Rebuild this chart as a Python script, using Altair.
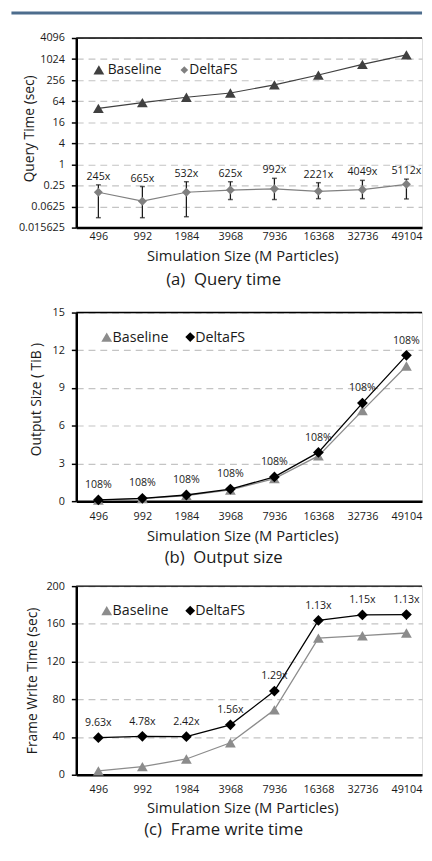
import altair as alt
import pandas as pd

sizes = ["496", "992", "1984", "3968", "7936", "16368", "32736", "49104"]

# (a) Query time (sec), log2 scale
query_baseline = [40, 58, 83, 110, 188, 358, 724, 1350]
query_deltafs = [0.16, 0.089, 0.16, 0.185, 0.20, 0.17, 0.19, 0.27]
query_err_low = [0.030, 0.030, 0.032, 0.099, 0.099, 0.105, 0.105, 0.103]
query_err_high = [0.26, 0.233, 0.32, 0.32, 0.40, 0.30, 0.35, 0.38]
query_speedup = ["245x", "665x", "532x", "625x", "992x", "2221x", "4049x", "5112x"]
query_ticks = [0.015625, 0.0625, 0.25, 1, 4, 16, 64, 256, 1024, 4096]

# (b) Output size (TiB)
output_baseline = [0.09, 0.21, 0.45, 0.89, 1.79, 3.60, 7.20, 10.75]
output_deltafs = [0.10, 0.23, 0.49, 0.96, 1.93, 3.88, 7.80, 11.60]
output_ratio = ["108%", "108%", "108%", "108%", "108%", "108%", "108%", "108%"]
output_ticks = [0, 3, 6, 9, 12, 15]

# (c) Frame write time (sec)
write_baseline = [4.1, 8.5, 16.7, 33.9, 68.8, 144.8, 147.4, 150.3]
write_deltafs = [39.3, 40.7, 40.4, 52.9, 88.7, 163.6, 169.5, 169.8]
write_ratio = ["9.63x", "4.78x", "2.42x", "1.56x", "1.29x", "1.13x", "1.15x", "1.13x"]
write_ticks = [0, 40, 80, 120, 160, 200]

series = ["Baseline", "DeltaFS"]
shapes = ["triangle-up", "diamond"]
FONT = "Open Sans"
TXT = "#1a1a1a"
W = 352
NB = "\u00a0"


def long_df(baseline, deltafs):
    rows = []
    for s, b, d in zip(sizes, baseline, deltafs):
        rows.append({"size": s, "series": "Baseline", "value": b})
        rows.append({"size": s, "series": "DeltaFS", "value": d})
    return pd.DataFrame(rows)


def x_enc(label_pad, title_pad):
    return alt.X(
        "size:N",
        sort=sizes,
        scale=alt.Scale(type="point", padding=0.4286, align=0.586),
        axis=alt.Axis(
            title="Simulation Size (M Particles)",
            labelAngle=0,
            ticks=False,
            grid=False,
            domainColor="black",
            domainWidth=2.5,
            labelPadding=label_pad,
            titlePadding=title_pad,
            labelFontSize=11,
            labelColor=TXT,
            titleFontSize=15,
            titleFontWeight="normal",
            titleColor=TXT,
            titleX=169,
            labelFont=FONT,
            titleFont=FONT,
        ),
    )


def y_axis(title, ticks, title_x, title_y, fmt):
    return alt.Axis(
        title=title,
        values=ticks,
        tickCount=len(ticks),
        format=fmt,
        grid=True,
        gridColor="#c4c4c4",
        gridDash=[7, 5],
        gridWidth=1.2,
        domainColor="black",
        domainWidth=2.5,
        tickColor="black",
        tickSize=5,
        tickWidth=1.5,
        labelPadding=7,
        labelFontSize=11,
        labelColor=TXT,
        titleFontSize=14,
        titleFontWeight="normal",
        titleColor=TXT,
        titleX=title_x,
        titleY=title_y,
        labelFont=FONT,
        titleFont=FONT,
    )


def legend_layers(anchor_df, colors, sym_sizes, pos, font_size):
    # pos: (sym1_x, text1_x, sym2_x, text2_x, y) in pixels inside the plot area
    s1x, t1x, s2x, t2x, ly = pos
    out = []
    for name, shp, col, ssz, sx, tx in zip(series, shapes, colors, sym_sizes, (s1x, s2x), (t1x, t2x)):
        out.append(alt.Chart(anchor_df).mark_point(
            shape=shp, filled=True, color=col, size=ssz, opacity=1
        ).encode(x=alt.value(sx), y=alt.value(ly)))
        out.append(alt.Chart(anchor_df).mark_text(
            text=name, align="left", baseline="middle", font=FONT, fontSize=font_size, color=TXT
        ).encode(x=alt.value(tx), y=alt.value(ly + 0.5)))
    return out


def panel(df, ydef, colors, small_delta, legend_pos, legend_sizes, legend_font, line_w, label_df,
          label_field, label_dy, caption, caption_y, label_pad, title_pad, extra=None,
          top_bar=False, height=192):
    color_scale = alt.Scale(domain=series, range=colors)
    shape_scale = alt.Scale(domain=series, range=shapes)
    base = alt.Chart(df)
    x = x_enc(label_pad, title_pad)
    lines = base.mark_line(strokeWidth=line_w).encode(
        x=x,
        y=ydef,
        stroke=alt.Stroke("series:N", scale=color_scale, legend=None),
        detail="series:N",
    )
    pts = base.mark_point(filled=True, opacity=1).encode(
        x=x,
        y=ydef,
        color=alt.Color("series:N", scale=color_scale, legend=None),
        shape=alt.Shape("series:N", scale=shape_scale, legend=None),
        size=alt.condition(alt.datum.series == "DeltaFS", alt.value(small_delta), alt.value(120)),
    )
    labels = alt.Chart(label_df).mark_text(
        fontSize=10.8, font=FONT, color=TXT, dy=label_dy, baseline="middle"
    ).encode(x=x, y=alt.Y(label_field + ":Q"), text="label:N")
    anchor = label_df.head(1)
    top = alt.Chart(anchor).mark_rule(color="black", strokeWidth=1.5).encode(
        x=alt.value(0), x2=alt.value("width"), y=alt.value(0)
    )
    cap = alt.Chart(anchor).mark_text(
        text=caption, align="center", baseline="middle", font=FONT, fontSize=17, color=TXT
    ).encode(x=alt.value(150), y=alt.value(caption_y))
    layers = [lines]
    if extra is not None:
        layers += extra
    layers += [pts, labels, top, cap]
    layers += legend_layers(anchor, colors, legend_sizes, legend_pos, legend_font)
    if top_bar:
        bar = alt.Chart(anchor).mark_rule(color="#4d6d8d", strokeWidth=3).encode(
            x=alt.value(-66), x2=alt.value("width"), y=alt.value(-25.5)
        )
        pin = alt.Chart(anchor).mark_rule(color="transparent", strokeWidth=0.1).encode(
            x=alt.value(0), x2=alt.value(10), y=alt.value(-37.5)
        )
        layers += [bar, pin]
    return alt.layer(*layers).properties(width=W, height=height)


# ---- (a)
dfa = long_df(query_baseline, query_deltafs)
lab_a = pd.DataFrame({"size": sizes, "value": query_deltafs, "lo": query_err_low,
                      "hi": query_err_high, "label": query_speedup})
ya = alt.Y("value:Q", scale=alt.Scale(type="log", base=2, domain=[0.015625, 4096], nice=False),
           axis=y_axis("Query Time (sec)", query_ticks, -41, 92, "~g"))
xa = x_enc(3, 6)
err = alt.Chart(lab_a).mark_rule(color="#1a1a1a", strokeWidth=1.3).encode(
    x=xa, y=alt.Y("lo:Q"), y2="hi:Q")
cap_lo = alt.Chart(lab_a).mark_tick(color="#1a1a1a", size=5, thickness=1.5).encode(x=xa, y="lo:Q")
cap_hi = alt.Chart(lab_a).mark_tick(color="#1a1a1a", size=5, thickness=1.5).encode(x=xa, y="hi:Q")
pa = panel(dfa, ya, ["#404040", "#808080"], 85, (23, 32, 110, 115, 32.5), (120, 60), 14, 1.2,
           lab_a, "hi", -8, "(a)" + NB + NB + "Query time", 246.5, 3, 7,
           extra=[err, cap_lo, cap_hi], top_bar=True, height=193)

# ---- (b)
dfb = long_df(output_baseline, output_deltafs)
lab_b = pd.DataFrame({"size": sizes, "value": output_deltafs, "label": output_ratio})
yb = alt.Y("value:Q", scale=alt.Scale(domain=[0, 15], nice=False),
           axis=y_axis("Output Size ( TiB )", output_ticks, -33.5, 88, "d"))
pb = panel(dfb, yb, ["#8c8c8c", "#000000"], 120, (31, 37, 116, 121, 25), (120, 100), 14.5, 1.3,
           lab_b, "value", -15, "(b)" + NB + NB + "Output size", 249.5, 10, 7)

# ---- (c)
dfc = long_df(write_baseline, write_deltafs)
lab_c = pd.DataFrame({"size": sizes, "value": write_deltafs, "label": write_ratio})
yc = alt.Y("value:Q", scale=alt.Scale(domain=[0, 200], nice=False),
           axis=y_axis("Frame Write Time (sec)", write_ticks, -37.5, 96, "d"))
pc = panel(dfc, yc, ["#8c8c8c", "#000000"], 120, (31, 37, 116, 121, 25), (120, 100), 14.5, 1.3,
           lab_c, "value", -15, "(c)" + NB + NB + "Frame write time", 248, 9, 6)

chart = alt.vconcat(pa, pb, pc, spacing=86.5, bounds="flush").resolve_scale(
    color="independent", shape="independent", stroke="independent",
    x="independent", y="independent"
).properties(
    padding={"top": -16, "left": 1.5, "right": 0, "bottom": 0}
).configure_view(stroke=None).configure(font=FONT)

chart.save("out.html", embed_options={"renderer": "svg", "actions": False})
